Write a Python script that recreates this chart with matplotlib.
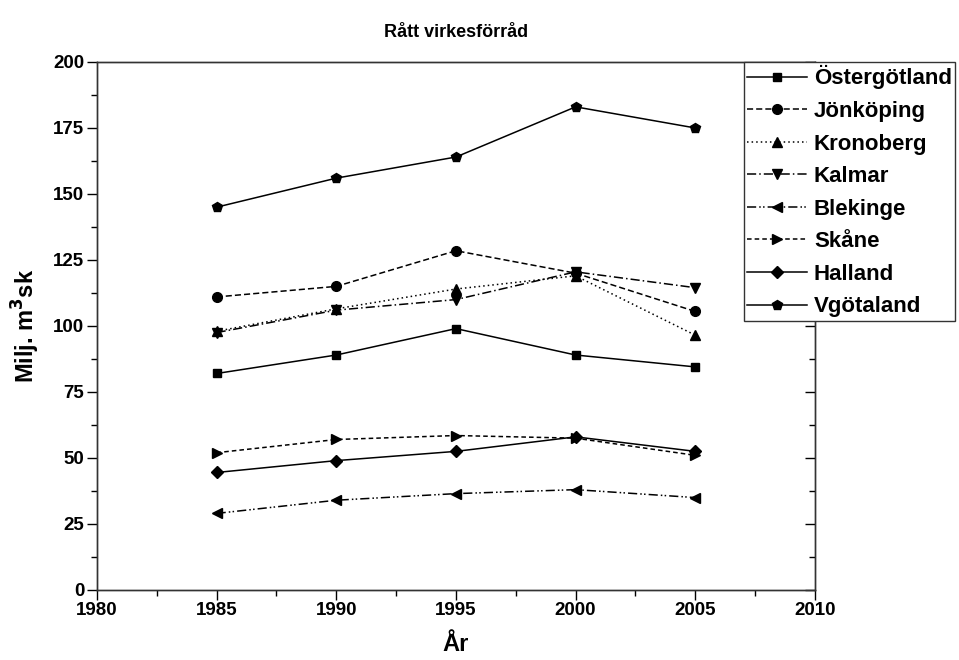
import matplotlib
matplotlib.use('Agg')
import matplotlib.pyplot as plt
from matplotlib.ticker import MultipleLocator

# ── DATA ──────────────────────────────────────────────────────────────
years = [1985, 1990, 1995, 2000, 2005]

ostergotland = [82.0, 89.0, 99.0, 89.0, 84.5]
jonkoping    = [111.0, 115.0, 128.5, 120.0, 105.5]
kronoberg    = [98.0, 106.5, 114.0, 119.0, 96.5]
kalmar       = [97.5, 106.0, 110.0, 120.5, 114.5]
blekinge     = [29.0, 34.0, 36.5, 38.0, 35.0]
skane        = [52.0, 57.0, 58.5, 57.5, 51.0]
halland      = [44.5, 49.0, 52.5, 58.0, 52.5]
vgotaland    = [145.0, 156.0, 164.0, 183.0, 175.0]

names = ["Östergötland", "Jönköping", "Kronoberg", "Kalmar",
         "Blekinge", "Skåne", "Halland", "Vgötaland"]
series = [ostergotland, jonkoping, kronoberg, kalmar,
          blekinge, skane, halland, vgotaland]

# ── STYLE ─────────────────────────────────────────────────────────────
plt.rcParams['font.family'] = ['Liberation Sans', 'DejaVu Sans']
plt.rcParams['font.weight'] = 'bold'

markers = ['s', 'o', '^', 'v', '<', '>', 'D', 'p']
styles  = ['-', (0, (4, 2)), (0, (1, 2)), (0, (6, 2, 1, 2)),
           (0, (6, 2, 1, 1.5, 1, 2)), (0, (3, 2)), '-', '-']
msizes  = [6, 7, 7, 7, 7, 7, 6.5, 7.5]

fig = plt.figure(figsize=(9.59, 6.6), dpi=100)
ax = fig.add_axes([0.1011, 0.1061, 0.7487, 0.8])

for vals, name, m, ls, ms in zip(series, names, markers, styles, msizes):
    ax.plot(years, vals, color='black', linestyle=ls, linewidth=1.1,
            marker=m, markersize=ms, markerfacecolor='black',
            markeredgecolor='black', label=name)

ax.set_xlim(1980, 2010)
ax.set_ylim(0, 200)
ax.xaxis.set_major_locator(MultipleLocator(5))
ax.xaxis.set_minor_locator(MultipleLocator(2.5))
ax.yaxis.set_major_locator(MultipleLocator(25))
ax.yaxis.set_minor_locator(MultipleLocator(12.5))

ax.tick_params(which='both', direction='out', top=False, right=False,
               labelsize=13.5, width=1)
ax.tick_params(which='major', length=7, pad=2)
ax.tick_params(which='minor', length=4)

# mirrored inward ticks on the right spine
ax2 = ax.twinx()
ax2.set_ylim(0, 200)
ax2.yaxis.set_major_locator(MultipleLocator(25))
ax2.yaxis.set_minor_locator(MultipleLocator(12.5))
ax2.tick_params(which='both', direction='in', labelright=False, width=1)
ax2.tick_params(which='major', length=7)
ax2.tick_params(which='minor', length=4)

for a in (ax, ax2):
    for sp in a.spines.values():
        sp.set_linewidth(1)
        sp.set_color('#333333')

for lab in ax.get_xticklabels() + ax.get_yticklabels():
    lab.set_fontweight('bold')

ax.set_xlabel("År", fontsize=17, fontweight='bold', labelpad=10)
ax.set_ylabel("Milj. m$^\\mathbf{3}$sk", fontsize=17, fontweight='bold',
              labelpad=8)
ax.set_title("Rått virkesförråd", fontsize=13, fontweight='bold', pad=18)

leg = ax2.legend(*ax.get_legend_handles_labels(), loc='upper left',
                 bbox_to_anchor=(0.901, 1.0), frameon=True, fancybox=False,
                 edgecolor='#333333', handlelength=2.7,
                 handletextpad=0.3, borderpad=0.15, labelspacing=0.52,
                 borderaxespad=0, prop={'weight': 'bold', 'size': 16})
leg.get_frame().set_linewidth(1)
leg.get_frame().set_alpha(1)

fig.savefig("out.png", dpi=100, facecolor='white')
